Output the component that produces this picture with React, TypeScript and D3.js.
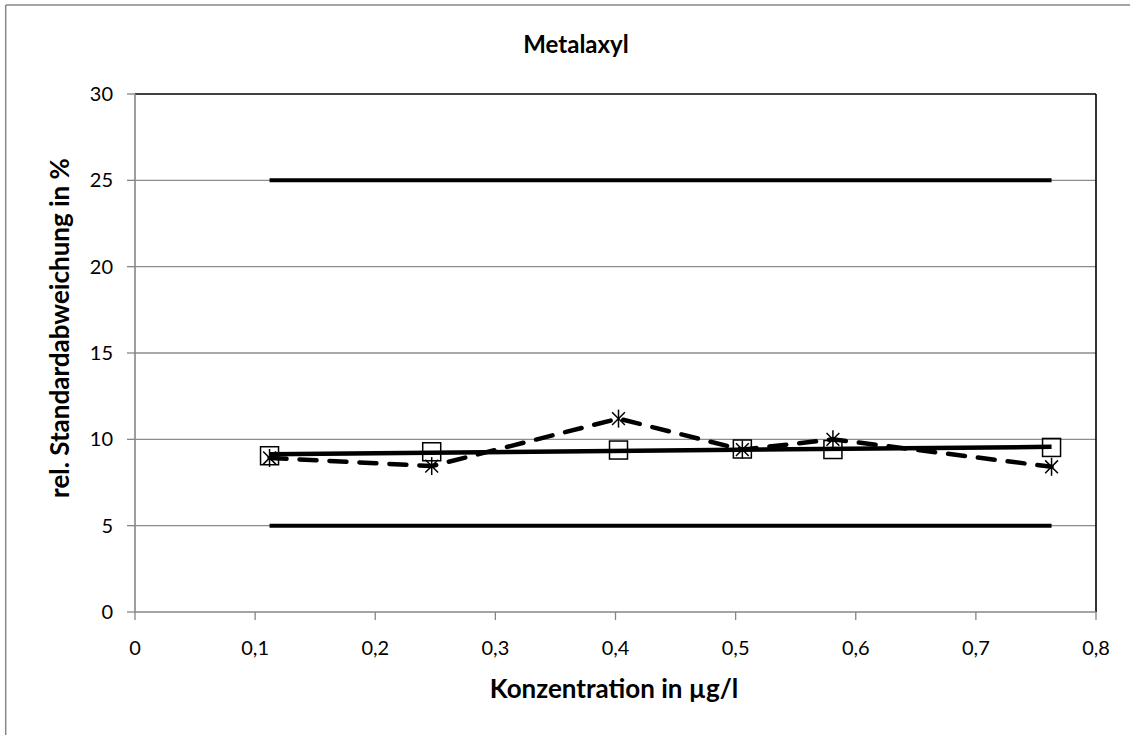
import React from "react";
import * as d3 from "d3";

const conc = [0.112, 0.247, 0.4025, 0.5056, 0.581, 0.763];
const rsdSquare = [9.05, 9.28, 9.38, 9.44, 9.41, 9.53];
const rsdStar = [8.92, 8.45, 11.2, 9.4, 10.0, 8.41];
const limitX = [0.112, 0.763];
const upperLimit = [25, 25];
const lowerLimit = [5, 5];
const xTicks = [0, 0.1, 0.2, 0.3, 0.4, 0.5, 0.6, 0.7, 0.8];
const yTicks = [0, 5, 10, 15, 20, 25, 30];

const W = 1130, H = 735;
const FONT = "Lato, 'Open Sans', sans-serif";

export default function App() {
  const x = d3.scaleLinear().domain([0, 0.8]).range([135, 1096]);
  const y = d3.scaleLinear().domain([0, 30]).range([612, 94]);
  const line = d3.line<[number, number]>().x(d => x(d[0])).y(d => y(d[1]));

  // linear trendline through the square series
  const mx = d3.mean(conc)!;
  const my = d3.mean(rsdSquare)!;
  const slope = d3.sum(conc.map((c, i) => (c - mx) * (rsdSquare[i] - my))) / d3.sum(conc.map(c => (c - mx) ** 2));
  const ic = my - slope * mx;
  const x0 = d3.min(conc)!, x1 = d3.max(conc)!;
  const trend: [number, number][] = [[x0, ic + slope * x0], [x1, ic + slope * x1]];

  const fmt = (v: number) => String(v).replace(".", ",");
  const s = 9; // half marker size
  const a = 6.4;

  return (
    <svg width={W} height={H} style={{ position: "absolute", left: 0, top: 0, background: "#fff" }}>
      <rect x={0} y={0} width={W} height={H} fill="#fff" />
      {/* chart border */}
      <line x1={5.7} y1={5} x2={W} y2={5} stroke="#888" strokeWidth={1.5} />
      <line x1={5.7} y1={5} x2={5.7} y2={H} stroke="#888" strokeWidth={1.5} />

      <text x={576} y={53} textAnchor="middle" fontFamily={FONT} fontWeight="bold" fontSize={24}>Metalaxyl</text>

      {/* gridlines */}
      {yTicks.filter(t => t > 0 && t < 30).map(t => (
        <line key={t} x1={x(0)} x2={x(0.8)} y1={y(t)} y2={y(t)} stroke="#8c8c8c" strokeWidth={1.3} />
      ))}
      {/* plot border */}
      <line x1={x(0)} x2={x(0.8)} y1={y(30)} y2={y(30)} stroke="#000" strokeWidth={1.6} />
      <line x1={x(0.8)} x2={x(0.8)} y1={y(30)} y2={y(0)} stroke="#000" strokeWidth={1.6} />
      {/* axes */}
      <line x1={x(0)} x2={x(0)} y1={y(30)} y2={y(0)} stroke="#868686" strokeWidth={1.6} />
      <line x1={x(0)} x2={x(0.8)} y1={y(0)} y2={y(0)} stroke="#868686" strokeWidth={1.6} />
      {yTicks.map(t => (
        <g key={t}>
          <line x1={x(0) - 8} x2={x(0)} y1={y(t)} y2={y(t)} stroke="#868686" strokeWidth={1.3} />
          <text x={113} y={y(t) + 7} textAnchor="end" fontFamily={FONT} fontSize={20}>{fmt(t)}</text>
        </g>
      ))}
      {xTicks.map(t => (
        <g key={t}>
          <line x1={x(t)} x2={x(t)} y1={y(0)} y2={y(0) + 8} stroke="#868686" strokeWidth={1.3} />
          <text x={x(t)} y={655} textAnchor="middle" fontFamily={FONT} fontSize={20}>{fmt(t)}</text>
        </g>
      ))}
      <text x={614} y={698} textAnchor="middle" fontFamily={FONT} fontWeight="bold" fontSize={26}>Konzentration in µg/l</text>
      <text transform={`translate(69,328) rotate(-90)`} textAnchor="middle" fontFamily={FONT} fontWeight="bold" fontSize={26}>rel. Standardabweichung in %</text>

      {/* limit lines */}
      <path d={line(limitX.map((c, i) => [c, upperLimit[i]]) as [number, number][])!} fill="none" stroke="#000" strokeWidth={4} />
      <path d={line(limitX.map((c, i) => [c, lowerLimit[i]]) as [number, number][])!} fill="none" stroke="#000" strokeWidth={4} />

      {/* dashed asterisk series */}
      <path d={line(conc.map((c, i) => [c, rsdStar[i]]) as [number, number][])!} fill="none" stroke="#000" strokeWidth={4.5} strokeDasharray="17 13" strokeLinecap="round" />
      {conc.map((c, i) => {
        const cx = x(c), cy = y(rsdStar[i]);
        return (
          <g key={"st" + i} stroke="#000" strokeWidth={1.5}>
            <line x1={cx} x2={cx} y1={cy - s} y2={cy + s} />
            <line x1={cx - a} x2={cx + a} y1={cy - a} y2={cy + a} />
            <line x1={cx - a} x2={cx + a} y1={cy + a} y2={cy - a} />
          </g>
        );
      })}
      {/* squares */}
      {conc.map((c, i) => (
        <rect key={"sq" + i} x={x(c) - s} y={y(rsdSquare[i]) - s} width={2 * s} height={2 * s} fill="none" stroke="#000" strokeWidth={1.5} />
      ))}
      {/* trendline */}
      <path d={line(trend)!} fill="none" stroke="#000" strokeWidth={4.5} />
    </svg>
  );
}
